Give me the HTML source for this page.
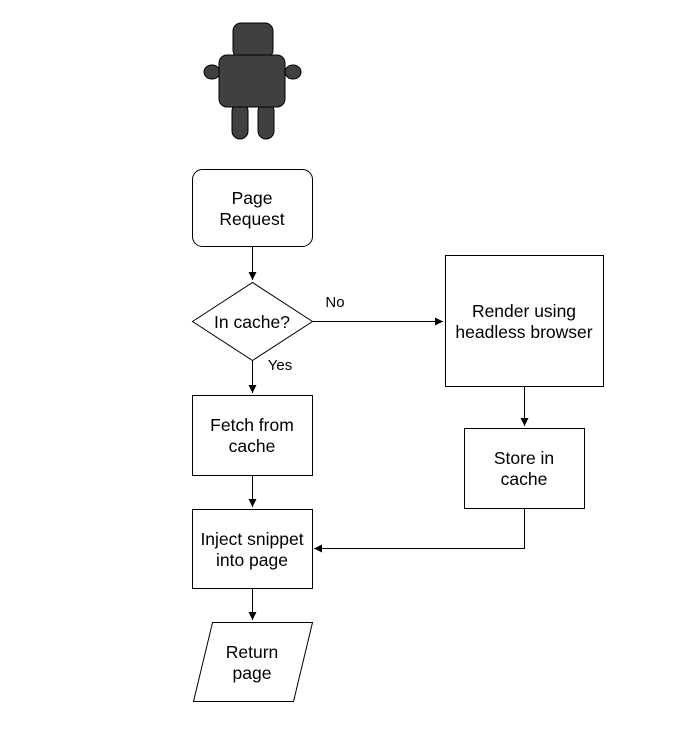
<!DOCTYPE html>
<html><head><style>body{margin:0;background:#fff}</style></head><body>
<svg width="675" height="727" xmlns="http://www.w3.org/2000/svg" font-family="Liberation Sans, Arial, sans-serif" font-size="17.5" text-anchor="middle">
<defs><marker id="a" markerWidth="10" markerHeight="10" refX="8" refY="4" orient="auto" markerUnits="userSpaceOnUse"><path d="M0,0 L8,4 L0,8 z" fill="#000"/></marker></defs>
<g fill="#404040" stroke="#000" stroke-width="1">
<rect x="233" y="23" width="40" height="35" rx="8"/>
<ellipse cx="212" cy="72" rx="8" ry="7"/>
<ellipse cx="293" cy="72" rx="8" ry="7"/>
<rect x="232" y="103" width="16" height="36" rx="8"/>
<rect x="258" y="103" width="16" height="36" rx="8"/>
<rect x="219" y="55" width="66" height="52" rx="8"/>
</g>
<g fill="#fff" stroke="#000" stroke-width="1">
<rect x="192.5" y="169.5" width="120" height="77" rx="10"/>
<polygon points="192.5,321.5 252.5,282.5 312.5,321.5 252.5,360.5"/>
<rect x="192.5" y="395.5" width="120" height="80"/>
<rect x="192.5" y="509.5" width="120" height="79"/>
<rect x="445.5" y="255.5" width="158" height="131"/>
<rect x="464.5" y="428.5" width="120" height="80"/>
<polygon points="212.5,622.5 312.5,622.5 293.5,701.5 193.5,701.5"/>
</g>
<g stroke="#000" fill="none" marker-end="url(#a)">
<path d="M252.5 247 V280"/>
<path d="M252.5 361 V393"/>
<path d="M252.5 476 V507"/>
<path d="M252.5 589 V620"/>
<path d="M313 321.5 H443"/>
<path d="M524.5 387 V426"/>
<path d="M524.5 509 V548.5 H314"/>
</g>
<text x="252" y="204">Page</text><text x="252" y="225">Request</text>
<text x="252" y="328">In cache?</text>
<text x="335" y="307" font-size="15">No</text>
<text x="280" y="370" font-size="15">Yes</text>
<text x="252" y="431">Fetch from</text><text x="252" y="452">cache</text>
<text x="252" y="545">Inject snippet</text><text x="252" y="566">into page</text>
<text x="524" y="317">Render using</text><text x="524" y="338">headless browser</text>
<text x="524" y="464">Store in</text><text x="524" y="485">cache</text>
<text x="252" y="658">Return</text><text x="252" y="679">page</text>
</svg>
</body></html>
